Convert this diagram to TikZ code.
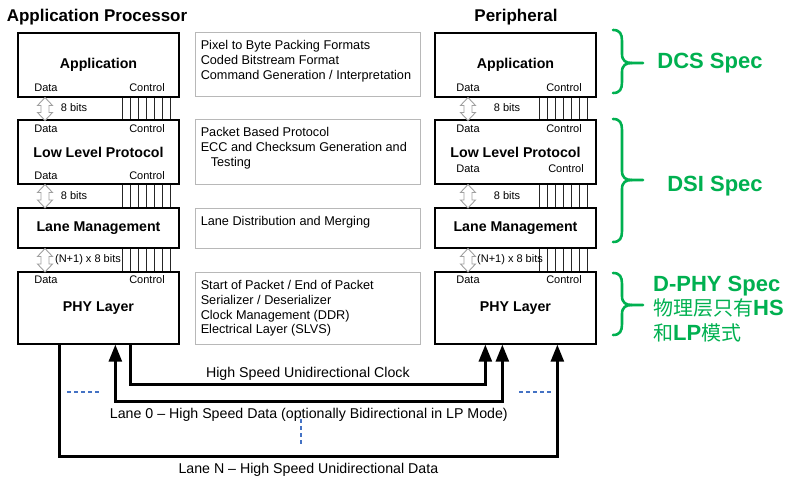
\documentclass[tikz,border=0pt]{standalone}
\usepackage{fontspec}
\setmainfont{Liberation Sans}
\newfontfamily\cjk{Noto Sans CJK SC}
\usetikzlibrary{arrows.meta}
\definecolor{cgreen}{HTML}{00B050}
\definecolor{cblue}{HTML}{4472C4}
\definecolor{cframe}{HTML}{B8B8B8}
\definecolor{chollow}{HTML}{A0A0A0}
\tikzset{
  layer/.style={draw=black, line width=1.3pt, fill=white, minimum width=161pt, inner sep=0pt, font=\fontsize{14.2}{17}\selectfont\bfseries},
  info/.style={draw=cframe, line width=0.9pt, minimum width=225pt, inner sep=0pt},
  infotext/.style={anchor=north west, align=left, inner sep=0pt, font=\fontsize{12.7}{14.7}\selectfont},
  lbl/.style={inner sep=0pt, font=\fontsize{11}{13}\selectfont},
  ctl/.style={draw=black!85, line width=0.7pt},
  hollow/.style={draw=chollow, fill=white, line width=0.9pt, line join=miter},
  wire/.style={draw=black, line width=2.6pt},
  tip/.style={-{Triangle[length=17pt, width=13pt]}},
  wlabel/.style={inner sep=0pt, font=\fontsize{14.2}{17}\selectfont},
  brace/.style={draw=cgreen, line width=2.6pt, line cap=round},
  spec/.style={inner sep=0pt, text=cgreen, font=\fontsize{22}{24.5}\selectfont\bfseries},
  dots/.style={draw=cblue, line width=2.4pt, dash pattern=on 4pt off 3pt},
  title/.style={inner sep=0pt, font=\fontsize{17}{20}\selectfont\bfseries},
}
\newcommand{\cjkpart}[1]{{\cjk\mdseries\fontsize{20}{24.5}\selectfont #1}}
% hollow double arrow between two layers: x, top y, bottom y
\newcommand{\hollowarrow}[3]{%
  \draw[hollow] (#1,#2) -- (#1+7.5,#2+8) -- (#1+4,#2+8) -- (#1+4,#3-8) -- (#1+7.5,#3-8)
    -- (#1,#3) -- (#1-7.5,#3-8) -- (#1-4,#3-8) -- (#1-4,#2+8) -- (#1-7.5,#2+8) -- cycle;}
% green curly brace: top y, tip y, bottom y
\newcommand{\specbrace}[3]{%
  \draw[brace] (613,#1) .. controls (620,#1) and (622,#1+4) .. (622,#1+11) -- (622,#2-9)
    .. controls (622,#2-2) and (626,#2) .. (632,#2) -- (643,#2);
  \draw[brace] (613,#3) .. controls (620,#3) and (622,#3-4) .. (622,#3-11) -- (622,#2+9)
    .. controls (622,#2+2) and (626,#2) .. (632,#2);}

\begin{document}
\begin{tikzpicture}[x=1pt, y=-1pt]
  \useasboundingbox (0,0) rectangle (792,478);

  \node[title] (tproc) at (97,17)  {Application Processor};
  \node[title] (tperi) at (516,17) {Peripheral};

  % application processor stack
  \node[layer, minimum height=64pt] (appL) at (98.5,65)  {Application};
  \node[layer, minimum height=64pt] (llpL) at (98.5,152) {Low Level Protocol};
  \node[layer, minimum height=40pt] (lmL)  at (98.5,228) {Lane Management};
  \node[layer, minimum height=72pt] (phyL) at (98.5,308) {PHY Layer};

  % peripheral stack
  \node[layer, minimum height=64pt] (appR) at (515.5,65)  {Application};
  \node[layer, minimum height=64pt] (llpR) at (515.5,152) {Low Level Protocol};
  \node[layer, minimum height=40pt] (lmR)  at (515.5,228) {Lane Management};
  \node[layer, minimum height=72pt] (phyR) at (515.5,308) {PHY Layer};

  % data / control ports
  \node[lbl] (dA1) at (46,88)   {Data};  \node[lbl] (cA1) at (147,88)  {Control};
  \node[lbl] (dA2) at (46,129)  {Data};  \node[lbl] (cA2) at (147,129) {Control};
  \node[lbl] (dA3) at (46,176)  {Data};  \node[lbl] (cA3) at (147,176) {Control};
  \node[lbl] (dA4) at (46,280)  {Data};  \node[lbl] (cA4) at (147,280) {Control};
  \node[lbl] (dP1) at (468,88)  {Data};  \node[lbl] (cP1) at (564,88)  {Control};
  \node[lbl] (dP2) at (468,129) {Data};  \node[lbl] (cP2) at (564,129) {Control};
  \node[lbl] (dP3) at (468,169) {Data};  \node[lbl] (cP3) at (566,169) {Control};
  \node[lbl] (dP4) at (468,280) {Data};  \node[lbl] (cP4) at (564,280) {Control};

  % control lines
  \foreach \u/\l in {appL/llpL, llpL/lmL, lmL/phyL, appR/llpR, llpR/lmR, lmR/phyR}
    \foreach \i in {0,...,6}
      \draw[ctl] ([xshift={105+8*\i}]\u.south west) -- ([xshift={105+8*\i}]\l.north west);

  % data paths
  \hollowarrow{45}{97.5}{120.5}
  \hollowarrow{45}{184.5}{208}
  \hollowarrow{45}{248.5}{272}
  \hollowarrow{468}{97.5}{120.5}
  \hollowarrow{468}{184.5}{208}
  \hollowarrow{468}{248.5}{272}
  \node[lbl] (bA1) at (74,108)   {8 bits};
  \node[lbl] (bA2) at (74,196)   {8 bits};
  \node[lbl] (bA3) at (88,260)   {(N+1) x 8 bits};
  \node[lbl] (bP1) at (507,108)  {8 bits};
  \node[lbl] (bP2) at (507,196)  {8 bits};
  \node[lbl] (bP3) at (510,260)  {(N+1) x 8 bits};

  % function lists
  \node[info, minimum height=64pt] (fun1) at (307.5,64)    {};
  \node[info, minimum height=65pt] (fun2) at (307.5,151.5) {};
  \node[info, minimum height=40pt] (fun3) at (307.5,228)   {};
  \node[info, minimum height=72pt] (fun4) at (307.5,308)   {};
  \node[infotext] (txt1) at ([shift={(6,9)}]fun1.north west)
    {Pixel to Byte Packing Formats\\Coded Bitstream Format\\Command Generation / Interpretation};
  \node[infotext] (txt2) at ([shift={(6,9)}]fun2.north west)
    {Packet Based Protocol\\ECC and Checksum Generation and\\\hspace*{10pt}Testing};
  \node[infotext] (txt3) at ([shift={(6,9)}]fun3.north west)
    {Lane Distribution and Merging};
  \node[infotext] (txt4) at ([shift={(6,8.7)}]fun4.north west)
    {Start of Packet / End of Packet\\Serializer / Deserializer\\Clock Management (DDR)\\Electrical Layer (SLVS)};

  % lanes
  \draw[wire, tip] ([xshift=113pt]phyL.south west) -- ++(0,40)
    -| node[wlabel, pos=0.25, above=3pt] (lclk) {High Speed Unidirectional Clock}
    ([xshift=51pt]phyR.south west);
  \draw[wire, {Triangle[length=17pt, width=13pt]}-{Triangle[length=17pt, width=13pt]}]
    ([xshift=98pt]phyL.south west) -- ++(0,57)
    -| node[wlabel, pos=0.25, below=5pt] (lzero) {Lane 0 -- High Speed Data (optionally Bidirectional in LP Mode)}
    ([xshift=68pt]phyR.south west);
  \draw[wire, tip] ([xshift=42pt]phyL.south west) -- ++(0,112)
    -| node[wlabel, pos=0.25, below=5pt] (lN) {Lane N -- High Speed Unidirectional Data}
    ([xshift=123pt]phyR.south west);
  \draw[dots] (67,392) -- (101,392);
  \draw[dots] (519,392) -- (553,392);
  \draw[dots] (301,419) -- (301,444);

  % specs
  \specbrace{30}{63}{93}
  \specbrace{119}{180}{242}
  \specbrace{273}{305}{335}
  \node[spec] (dcs) at (710,63)  {DCS Spec};
  \node[spec] (dsi) at (715,186) {DSI Spec};
  \node[spec, anchor=north west, align=left] (dphy) at (653,275.5)
    {D-PHY Spec\\\cjkpart{物理层只有}HS\\\cjkpart{和}LP\cjkpart{模式}};
\end{tikzpicture}
\end{document}
